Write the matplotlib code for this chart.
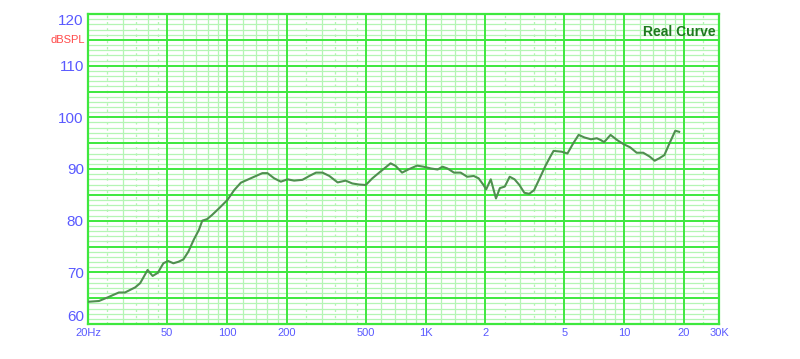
import matplotlib.pyplot as plt
import numpy as np

# frequency response (Hz, dB SPL)
freq = [20, 22.7, 25.3, 28.6, 30.7, 34.6, 36.6, 39.9, 42.3, 44.9, 47.9, 50.6, 53.8, 57.1,
        60.4, 64.0, 68.1, 72.3, 75.2, 79.5, 84.2, 91.4, 100.6, 108.8, 117.6, 131.8,
        150.9, 160, 173, 186.9, 202, 218, 240, 260, 281, 303, 328, 361, 396, 428, 462,
        500, 540, 593, 667, 707, 762, 823, 906, 976, 1066, 1150, 1218, 1290, 1391,
        1502, 1621, 1748, 1850, 1958, 2019, 2130, 2262, 2367, 2505, 2652, 2806, 2969,
        3142, 3325, 3518, 3723, 4013, 4247, 4409, 4839, 5180, 5525, 5895, 6310, 6803,
        7282, 7622, 7920, 8537, 9213, 9937, 10710, 11555, 12465, 13440, 14230, 15060,
        15930, 16870, 18070, 18910]
spl = [64.3, 64.45, 65.2, 66.1, 66.1, 67.1, 67.9, 70.45, 69.3, 69.9, 71.75, 72.2, 71.75, 72.05,
       72.5, 74.0, 76.3, 78.2, 80.0, 80.3, 81.1, 82.4, 84.0, 85.9, 87.35, 88.2,
       89.2, 89.2, 88.2, 87.55, 88.0, 87.75, 87.9, 88.65, 89.3, 89.3, 88.65, 87.4, 87.75, 87.2, 87.0,
       86.9, 88.2, 89.5, 91.1, 90.6, 89.3, 89.95, 90.65, 90.45, 90.1, 89.9, 90.45, 90.1, 89.3,
       89.3, 88.5, 88.65, 88.2, 86.9, 86.05, 88.0, 84.3, 86.3, 86.6, 88.5, 88.0, 86.9,
       85.4, 85.2, 85.9, 87.9, 90.6, 92.4, 93.5, 93.35, 93.0, 94.9, 96.6, 96.1, 95.75,
       95.95, 95.6, 95.2, 96.6, 95.6, 94.8, 94.2, 93.15, 93.15, 92.4, 91.6, 92.1,
       92.7, 94.9, 97.4, 97.2]

x_ticks = [20, 50, 100, 200, 500, 1000, 2000, 5000, 10000, 20000, 30000]
x_labels = ["20Hz", "50", "100", "200", "500", "1K", "2", "5", "10", "20", "30K"]
y_ticks = [60, 70, 80, 90, 100, 110, 120]

major_col = "#3ee83e"
minor_col = "#b4f5b4"
blue = "#5a5aff"

fig = plt.figure(figsize=(8, 3.59), dpi=100)
ax = fig.add_axes([88 / 800, 35 / 359, 631 / 800, 310 / 359])
ax.set_xscale("log")
ax.set_xlim(20, 30000)
ax.set_ylim(60, 120)

# grid lines
for dec in [10, 100, 1000, 10000]:
    for m in [1.2, 1.4, 1.6, 1.8, 3, 4, 6, 7, 8, 9]:
        f = m * dec
        if 20 < f < 30000:
            ax.axvline(f, color=minor_col, lw=0.9, zorder=1)
    for m in [2.5, 3.5, 4.5]:
        f = m * dec
        if 20 < f < 30000:
            ax.axvline(f, color=minor_col, lw=0.9, ls=(0, (2, 3)), zorder=1)
for y in range(61, 120):
    if y % 5:
        ax.axhline(y, color=minor_col, lw=0.9, zorder=1)
for f in x_ticks[1:-1]:
    ax.axvline(f, color=major_col, lw=1.4, zorder=2)
for y in range(65, 120, 5):
    ax.axhline(y, color=major_col, lw=1.4, zorder=2)

ax.plot(freq, spl, color="#4f8f4f", lw=1.5, zorder=3)

for s in ax.spines.values():
    s.set_color(major_col)
    s.set_linewidth(1.6)

ax.set_xticks(x_ticks)
ax.set_xticklabels(x_labels, fontsize=8, color=blue, family="Liberation Sans")
ax.xaxis.set_minor_locator(plt.NullLocator())
ax.set_yticks(y_ticks)
ylab = ax.set_yticklabels([str(v) for v in y_ticks], fontsize=11, color=blue, family="Liberation Sans")
ylab[0].set_va("bottom")
ylab[-1].set_va("top")
ax.tick_params(axis="y", length=0, pad=3)
ax.tick_params(axis="x", length=0, pad=3)

ax.text(-0.004, 115, "dBSPL", transform=ax.get_yaxis_transform(), ha="right", va="center",
        fontsize=8, color="#ff4a4a", family="Liberation Sans")
ax.text(0.995, 0.965, "Real Curve", transform=ax.transAxes, ha="right", va="top",
        fontsize=10, fontweight="bold", color="#1f7a1f", family="Liberation Sans")

plt.savefig("out.png", dpi=100)
